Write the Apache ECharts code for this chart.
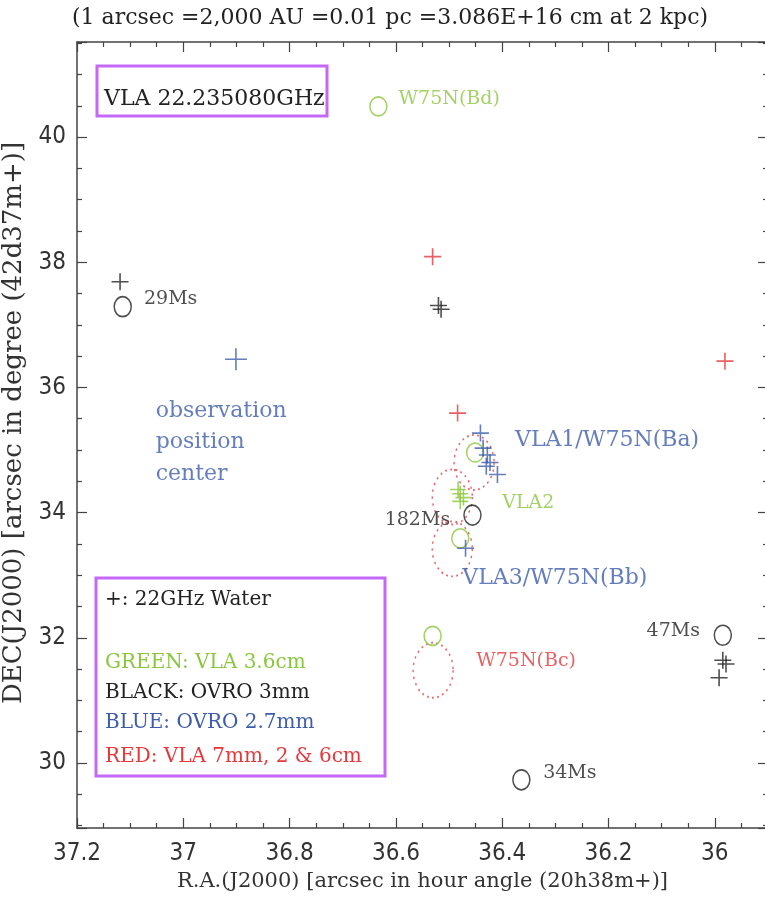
<!DOCTYPE html>
<html>
<head>
<meta charset="utf-8">
<script src="https://cdn.jsdelivr.net/npm/echarts@6/dist/echarts.min.js"></script>
<style>
  html, body { margin: 0; padding: 0; overflow: hidden; background: #fff; }
  #main { width: 790px; height: 906px; }
</style>
</head>
<body>
<div id="main"></div>
<script>
// 数据: [R.A. arcsec, DEC arcsec]
const greenCircles = [[36.633, 40.49], [36.451, 34.96], [36.479, 33.59], [36.531, 32.03]];
const greenPluses = [[36.483, 34.37], [36.479, 34.30], [36.473, 34.24], [36.479, 34.18]];
const blackCircles = [[37.114, 37.29], [36.456, 33.96], [35.985, 32.04], [36.364, 29.73]];
const blackPluses = [[37.119, 37.69], [36.520, 37.31], [36.515, 37.25], [35.985, 31.64], [35.979, 31.58], [35.992, 31.36]];
const redPluses = [[36.531, 38.09], [35.981, 36.42], [36.484, 35.59]];
const bluePluses = [[36.901, 36.45], [36.441, 35.27], [36.436, 35.03], [36.428, 34.92], [36.423, 34.80],
                    [36.430, 34.74], [36.409, 34.61], [36.469, 33.43]];
const redEllipses = [[36.453, 34.80], [36.494, 34.25], [36.494, 33.42], [36.530, 31.48]];

// 标注文字
const annoText = ['W75N(Bd)', '29Ms', 'observation', 'position', 'center', 'VLA1/W75N(Ba)', 'VLA2',
                  '182Ms', 'VLA3/W75N(Bb)', 'W75N(Bc)', '47Ms', '34Ms'];
const annoPos = [[36.595, 40.61], [37.074, 37.42], [37.052, 35.62], [37.052, 35.12], [37.052, 34.61],
                 [36.376, 35.16], [36.400, 34.15], [36.498, 33.88], [36.475, 32.95], [36.449, 31.63],
                 [36.028, 32.11], [36.323, 29.84]];
const annoColor = ['green', 'black', 'blue', 'blue', 'blue', 'blue', 'green', 'black', 'blue', 'red', 'black', 'black'];
const annoAlign = ['left', 'left', 'left', 'left', 'left', 'left', 'left', 'right', 'left', 'left', 'right', 'left'];

const legendLines = ['+: 22GHz Water', 'GREEN: VLA 3.6cm', 'BLACK: OVRO 3mm', 'BLUE: OVRO 2.7mm', 'RED: VLA 7mm, 2 & 6cm'];
const legendColor = ['black', 'green', 'black', 'blue', 'red'];

const COL = { green: '#8cc63f', black: '#222', blue: '#3d5caa', red: '#e5383b' };
const PURPLE = '#c468f5';
const SERIF = '"DejaVu Serif", "Liberation Serif", serif';
const NARROW = '"Liberation Sans Narrow", "DejaVu Sans Condensed", sans-serif';
const PLUS = 'path://M10,0 L10,20 M0,10 L20,10';

let chart = echarts.init(document.getElementById('main'));

let plusSeries = (data, c, size) => ({
    type: 'scatter', data, symbol: PLUS, symbolSize: size || 17, z: 3,
    itemStyle: { color: 'transparent', borderColor: c, borderWidth: 1.6 }
});
let circleSeries = (data, c, size) => ({
    type: 'scatter', data, symbol: 'circle', symbolSize: size, z: 3,
    itemStyle: { color: 'transparent', borderColor: c, borderWidth: 1.6 }
});

const axisCommon = {
    type: 'value',
    axisLine: { show: true, onZero: false, lineStyle: { color: '#444', width: 1.5 } },
    axisTick: { show: true, inside: true, length: 10, lineStyle: { color: '#444', width: 1.2 } },
    minorTick: { show: true, splitNumber: 4, length: 5, lineStyle: { color: '#444', width: 1.2 } },
    splitLine: { show: false },
    minorSplitLine: { show: false }
};

let options = {
    animation: false,
    backgroundColor: '#fff',
    grid: { left: 77, right: 22, top: 42, bottom: 78, containLabel: false, outerBoundsMode: 'none' },
    xAxis: [
        Object.assign({}, axisCommon, {
            position: 'bottom', inverse: true, min: 35.9, max: 37.2, splitNumber: 6,
            axisLabel: { show: true, showMinLabel: false, showMaxLabel: true, margin: 14,
                color: '#333', fontFamily: NARROW, fontSize: 24 },
            name: 'R.A.(J2000) [arcsec in hour angle (20h38m+)]',
            nameLocation: 'middle', nameGap: 42,
            nameTextStyle: { color: '#333', fontFamily: SERIF, fontSize: 21 }
        }),
        Object.assign({}, axisCommon, {
            position: 'top', inverse: true, min: 35.9, max: 37.2, splitNumber: 6,
            axisLabel: { show: false }
        })
    ],
    yAxis: [
        Object.assign({}, axisCommon, {
            position: 'left', min: 28.96, max: 41.52, splitNumber: 6,
            axisLabel: { show: true, showMinLabel: false, showMaxLabel: false, margin: 11,
                color: '#333', fontFamily: NARROW, fontSize: 24 },
            name: 'DEC(J2000) [arcsec in degree (42d37m+)]',
            nameLocation: 'middle', nameGap: 43,
            nameTextStyle: { color: '#333', fontFamily: SERIF, fontSize: 26, padding: [0, 0, 0, 24] }
        }),
        Object.assign({}, axisCommon, {
            position: 'right', min: 28.96, max: 41.52, splitNumber: 6,
            axisLabel: { show: false }
        })
    ],
    series: [
        {
            type: 'scatter', data: redEllipses, symbol: 'circle', symbolSize: [40, 55], z: 2,
            itemStyle: { color: 'transparent', borderColor: COL.red, borderWidth: 1.6, borderType: [2, 4] }
        },
        circleSeries(greenCircles, COL.green, [17, 19]),
        circleSeries(blackCircles, COL.black, [17, 20]),
        plusSeries(greenPluses, COL.green, 16),
        plusSeries(blackPluses, COL.black, 17),
        plusSeries(redPluses, COL.red, 17),
        plusSeries(bluePluses.slice(0, 1), COL.blue, 22),
        plusSeries(bluePluses.slice(1), COL.blue, 17),
        {
            // 文字标注
            type: 'scatter', symbolSize: 0, z: 4, silent: true,
            data: annoText.map((t, i) => ({
                name: t, value: annoPos[i],
                label: { color: COL[annoColor[i]], align: annoAlign[i],
                         fontSize: annoColor[i] === 'blue' ? 22 : 19 }
            })),
            label: { show: true, position: 'inside', formatter: '{b}', verticalAlign: 'middle',
                fontFamily: SERIF }
        }
    ],
    graphic: [
        { type: 'text', x: 390, y: 18,
          style: { text: '(1 arcsec =2,000 AU =0.01 pc =3.086E+16 cm at 2 kpc)', fill: '#222',
                   font: '22px ' + SERIF, align: 'center', verticalAlign: 'middle' } },
        { type: 'rect', shape: { x: 97, y: 66, width: 230, height: 50 },
          style: { fill: '#fff', stroke: PURPLE, lineWidth: 3 }, z: 10 },
        { type: 'text', x: 104, y: 99, z: 11,
          style: { text: 'VLA 22.235080GHz', fill: '#222', font: '22px ' + SERIF, verticalAlign: 'middle' } },
        { type: 'rect', shape: { x: 96, y: 578, width: 289, height: 198 },
          style: { fill: '#fff', stroke: PURPLE, lineWidth: 3 }, z: 10 }
    ].concat(legendLines.map((t, i) => ({
        type: 'text', x: 105, y: [600, 663, 693, 723, 757][i], z: 11,
        style: { text: t, fill: COL[legendColor[i]], font: '20px ' + SERIF, verticalAlign: 'middle' }
    })))
};

chart.setOption(options);
</script>
</body>
</html>
